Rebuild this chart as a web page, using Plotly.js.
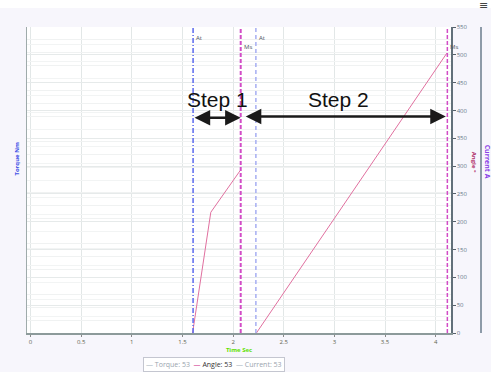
<!DOCTYPE html>
<html><head><meta charset="utf-8">
<script src="https://cdn.plot.ly/plotly-3.0.1.min.js"></script>
<style>html,body{margin:0;padding:0;background:#f7f6fc;}#chart{width:491px;height:372px;}</style>
</head><body><div id="chart"></div>
<script>
// ---- data ----
const angleTime  = [1.60, 1.78, 2.07, null, 2.23, 4.11];
const angleValue = [0, 217, 292, null, 0, 503];
const torqueTime = [];
const torqueValue = [];
const currentTime = [];
const currentValue = [];
const markerTimes  = [1.605, 2.075, 2.225, 4.115];
const markerLabels = ['At', 'Ms', 'At', 'Ms'];
const stepNames  = ['Step 1', 'Step 2'];
const stepStart  = [1.605, 2.11];
const stepEnd    = [2.075, 4.10];
const stepLevel  = [387, 389];
const stepTextTime  = [1.85, 3.045];
const stepTextLevel = [420, 420];
const xTicks = [0, 0.5, 1, 1.5, 2, 2.5, 3, 3.5, 4];
const xTickText = ['0', '0.5', '1', '1.5', '2', '2.5', '3', '3.5', '4'];
const legendNames = ['Torque: 53', 'Angle: 53', 'Current: 53'];

// ---- styles ----
const markerStyle = [
  {color: '#5a68ee', dash: '5px,2px,1px,2px', width: 1.5},
  {color: '#d24cc6', dash: '4px,2px', width: 2},
  {color: '#a6aef2', dash: '4px,3px', width: 1.5},
  {color: '#d24cc6', dash: '4px,2px', width: 1.5}
];
const F = 'Open Sans, DejaVu Sans, sans-serif';

const traces = [
  {x: torqueTime, y: torqueValue, yaxis: 'y', mode: 'lines', name: legendNames[0],
   line: {color: '#8fa0b0', width: 1}, showlegend: false},
  {x: angleTime, y: angleValue, yaxis: 'y2', mode: 'lines', name: legendNames[1],
   line: {color: '#e0709f', width: 1}, connectgaps: false, showlegend: false},
  {x: currentTime, y: currentValue, yaxis: 'y3', mode: 'lines', name: legendNames[2],
   line: {color: '#8fa0b0', width: 1}, showlegend: false}
];

const shapes = [
  {type: 'rect', xref: 'paper', yref: 'paper', x0: -0.2, x1: 1.2, y0: 1.062, y1: 1.3,
   fillcolor: '#ffffff', line: {width: 0}, layer: 'below'}
];
markerTimes.forEach((t, i) => {
  shapes.push({type: 'line', xref: 'x', yref: 'paper', x0: t, x1: t, y0: 0, y1: 1,
    line: {color: markerStyle[i].color, dash: markerStyle[i].dash, width: markerStyle[i].width}});
});

const annotations = [];
markerTimes.forEach((t, i) => {
  annotations.push({xref: 'x', yref: 'paper', x: t, y: markerLabels[i] === 'At' ? 0.985 : 0.955,
    xanchor: 'left', yanchor: 'top', xshift: 1, showarrow: false, text: markerLabels[i],
    font: {family: F, size: 6, color: '#4a5560'}});
});
stepNames.forEach((s, i) => {
  annotations.push({xref: 'x', yref: 'y2', x: stepTextTime[i], y: stepTextLevel[i],
    xanchor: 'center', showarrow: false, text: s,
    font: {family: 'Liberation Sans, Arial, sans-serif', size: 21, color: '#111'}});
  annotations.push({xref: 'x', yref: 'y2', x: stepEnd[i], y: stepLevel[i],
    axref: 'x', ayref: 'y2', ax: stepStart[i], ay: stepLevel[i], text: '', showarrow: true,
    arrowside: 'end+start', arrowhead: 2, arrowsize: 1.2, arrowwidth: 2.6, arrowcolor: '#1a1a1a',
    standoff: 0, startstandoff: 0});
});
// axis titles
annotations.push({xref: 'paper', yref: 'paper', x: (17 - 27) / 453, y: 0.57, xanchor: 'center',
  yanchor: 'middle', showarrow: false,
  text: '<b>Torque Nm</b>', textangle: -90, font: {family: F, size: 6, color: '#3d4ee6'}});
annotations.push({xref: 'paper', yref: 'paper', x: (474 - 27) / 453, y: 0.56, xanchor: 'center',
  yanchor: 'middle', showarrow: false,
  text: '<b>Angle °</b>', textangle: 90, font: {family: F, size: 6, color: '#b0306a'}});
annotations.push({xref: 'paper', yref: 'paper', x: (487 - 27) / 453, y: 0.56, xanchor: 'center',
  yanchor: 'middle', showarrow: false,
  text: '<b>Current A</b>', textangle: 90, font: {family: F, size: 7, color: '#8a3ee6'}});
// menu icon
annotations.push({xref: 'paper', yref: 'paper', x: (483 - 27) / 453, y: (333 - 5) / 306,
  xanchor: 'center', yanchor: 'middle', showarrow: false,
  text: '≡', font: {family: 'DejaVu Sans', size: 11, color: '#444'}});
// compact legend
annotations.push({xref: 'paper', yref: 'paper', x: (214 - 27) / 453, y: -0.077, xanchor: 'center',
  yanchor: 'top', showarrow: false, bgcolor: '#ffffff', bordercolor: '#c4c6d0', borderwidth: 1, borderpad: 2,
  font: {family: F, size: 7, color: '#9aa4ae'},
  text: '<span style="color:#a8b4be">—</span> ' + legendNames[0] +
        '  <span style="color:#d0308a">—</span> <span style="color:#333">' + legendNames[1] + '</span>' +
        '  <span style="color:#a8b4be">—</span> ' + legendNames[2]});

const layout = {
  width: 491, height: 372,
  margin: {l: 27, r: 11, t: 27, b: 39, pad: 0},
  paper_bgcolor: '#f7f6fc', plot_bgcolor: '#ffffff',
  showlegend: false,
  font: {family: F, size: 6, color: '#666'},
  xaxis: {domain: [0, 424/453], range: [-0.0345, 4.151], tickvals: xTicks, ticktext: xTickText,
    ticks: 'outside', ticklen: 2, tickcolor: '#888', tickfont: {family: F, size: 6, color: '#5f6550'},
    showgrid: true, gridcolor: '#e2e7e7', gridwidth: 1, zeroline: false,
    showline: true, linecolor: '#8c9a9a', linewidth: 1.5,
    title: {text: '<b>Time Sec</b>', font: {family: F, size: 6, color: '#5fe000'}, standoff: 3}},
  yaxis: {range: [0, 24], dtick: 1, showticklabels: false, ticks: '', showgrid: true,
    gridcolor: '#f0f2f2', zeroline: false, showline: true, linecolor: '#9fabab', linewidth: 1.5},
  yaxis2: {overlaying: 'y', side: 'right', anchor: 'x', range: [0, 550], dtick: 50,
    ticks: 'outside', ticklen: 3, tickcolor: '#55606a', tickfont: {family: F, size: 6, color: '#66788a'},
    showgrid: true, gridcolor: '#e6eaea', zeroline: false, showline: true, linecolor: '#62707a', linewidth: 1.5},
  yaxis3: {overlaying: 'y', side: 'right', anchor: 'free', position: 1, range: [0, 18], dtick: 1,
    showticklabels: false, ticks: '', showgrid: true, gridcolor: '#f2f4f4', zeroline: false,
    showline: true, linecolor: '#8d9aa8', linewidth: 1.5},
  shapes: shapes,
  annotations: annotations
};
Plotly.newPlot('chart', traces, layout, {displayModeBar: false, staticPlot: true});
</script></body></html>
